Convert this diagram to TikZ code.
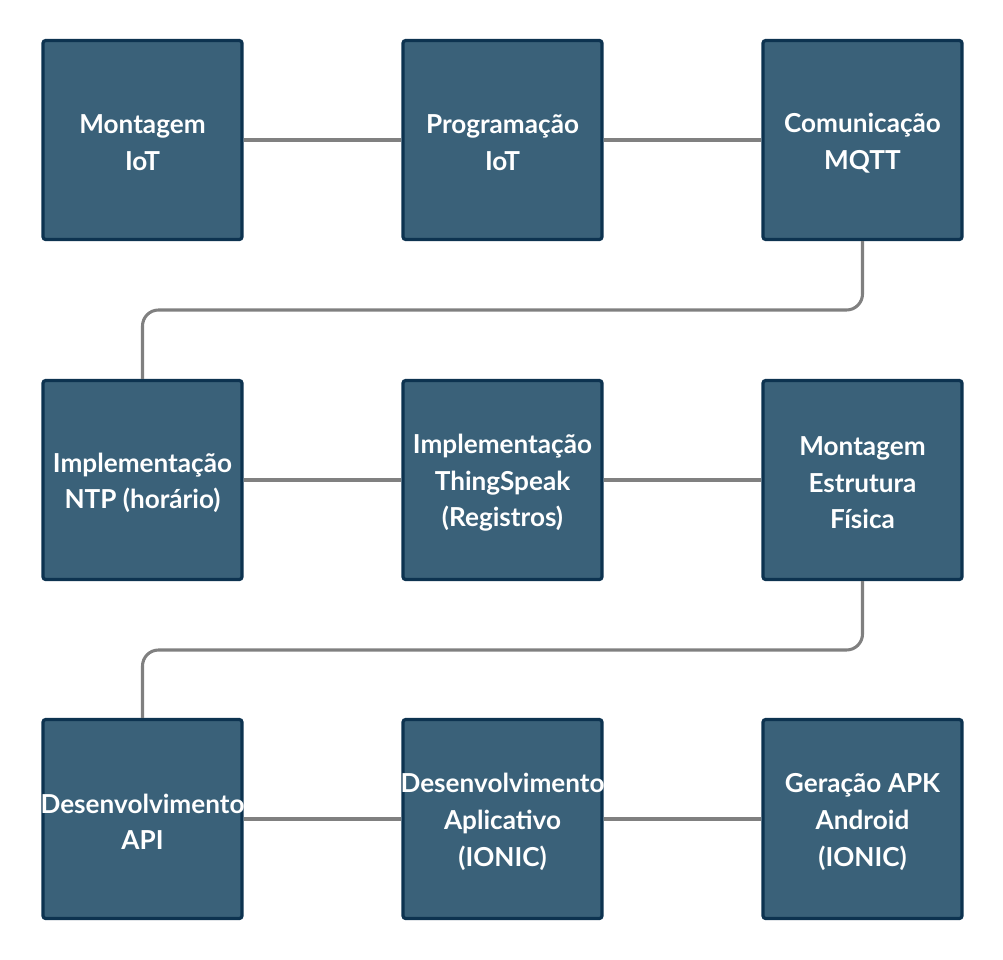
\documentclass[tikz,border=0pt]{standalone}
\usepackage{fontspec}
\setmainfont{Lato}
\definecolor{boxfill}{HTML}{3A6179}
\definecolor{boxdraw}{HTML}{0D3350}
\definecolor{linegray}{HTML}{808080}
\begin{document}
\begin{tikzpicture}[x=0.75pt,y=-0.75pt,
  stepbox/.style={draw=boxdraw,fill=boxfill,line width=2.4pt,rounded corners=2pt,
    minimum width=199*0.75pt,minimum height=199*0.75pt,inner sep=0pt},
  steptext/.style={inner sep=0pt,yshift=-2.2pt,
    text=white,align=center,font=\bfseries\fontsize{19.6pt}{27.5pt}\selectfont},
  conn/.style={draw=linegray,line width=2.3pt,rounded corners=12pt}]
\useasboundingbox (0,0) rectangle (1003,960);
\node[stepbox] (a) at (142.5,140) {};
\node[stepbox] (b) at (502.5,140) {};
\node[stepbox] (c) at (862.5,140) {};
\node[stepbox] (d) at (142.5,480) {};
\node[stepbox] (e) at (502.5,480) {};
\node[stepbox] (f) at (862.5,480) {};
\node[stepbox] (g) at (142.5,819) {};
\node[stepbox] (h) at (502.5,819) {};
\node[stepbox] (i) at (862.5,819) {};
\node[steptext] (at) at (a) {Montagem\\IoT};
\node[steptext] (bt) at (b) {Programação\\IoT};
\node[steptext] (ct) at (c) {Comunicação\\MQTT};
\node[steptext] (dt) at (d) {Implementação\\NTP (horário)};
\node[steptext] (et) at (e) {Implementação\\ThingSpeak\\(Registros)};
\node[steptext] (ft) at (f) {Montagem\\Estrutura\\Física};
\node[steptext] (gt) at (g) {Desenvolvimento\\API};
\node[steptext] (ht) at (h) {Desenvolvimento\\Aplicativo\\(IONIC)};
\node[steptext] (it) at (i) {Geração APK\\Android\\(IONIC)};
\draw[conn] (a.east) -- (b.west);
\draw[conn] (b.east) -- (c.west);
\draw[conn] (d.east) -- (e.west);
\draw[conn] (e.east) -- (f.west);
\draw[conn] (g.east) -- (h.west);
\draw[conn] (h.east) -- (i.west);
\draw[conn] (c.south) -- (862.5,310) -- (142.5,310) -- (d.north);
\draw[conn] (f.south) -- (862.5,650) -- (142.5,650) -- (g.north);
\end{tikzpicture}
\end{document}
